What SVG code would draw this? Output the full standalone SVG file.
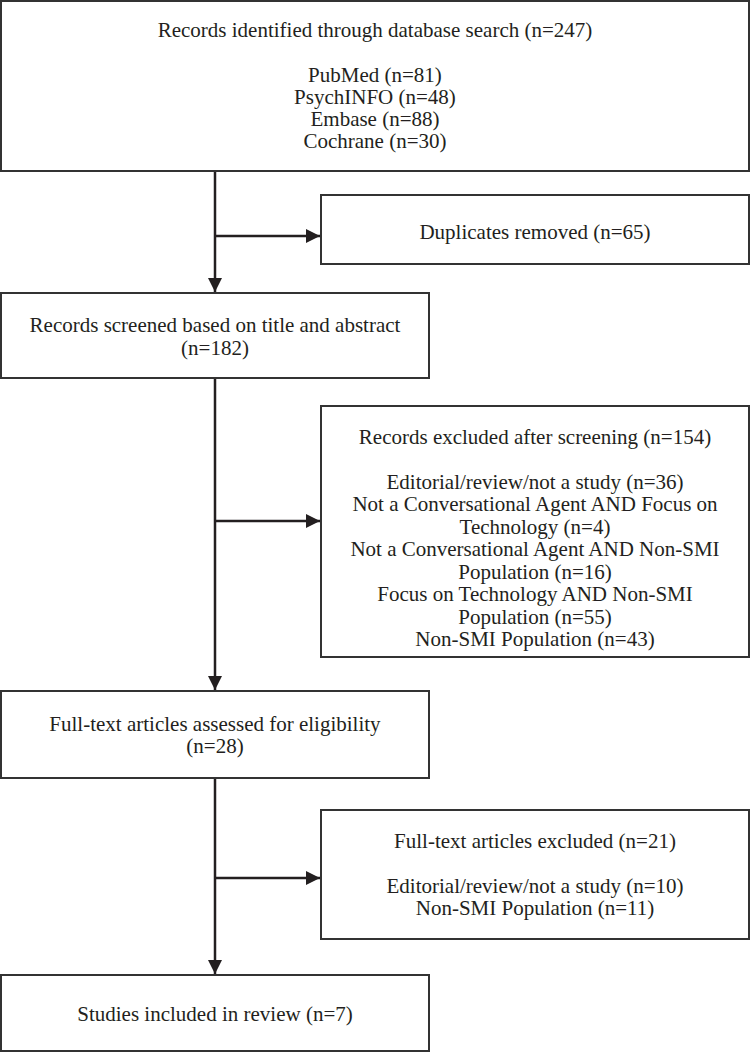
<svg xmlns="http://www.w3.org/2000/svg" width="751" height="1052" viewBox="0 0 751 1052">
<style>
.box{fill:#fff;stroke:#333;stroke-width:2}
.t{font-family:"Liberation Serif","Times New Roman",serif;font-size:21px;fill:#231f20;text-anchor:middle}
.c{stroke:#231f20;stroke-width:2.5;fill:none}
</style>
<defs>
<marker id="ah" markerUnits="userSpaceOnUse" markerWidth="16" markerHeight="16" viewBox="0 0 16 16" refX="14" refY="7" orient="auto">
<path d="M0,0 L14,7 L0,14 Z" fill="#231f20"/>
</marker>
</defs>
<rect width="751" height="1052" fill="#fff"/>
<g id="connectors">
<line class="c" x1="215" y1="171" x2="215" y2="292" marker-end="url(#ah)"/>
<line class="c" x1="215" y1="236" x2="320" y2="236" marker-end="url(#ah)"/>
<line class="c" x1="215" y1="378" x2="215" y2="690" marker-end="url(#ah)"/>
<line class="c" x1="215" y1="521" x2="320" y2="521" marker-end="url(#ah)"/>
<line class="c" x1="215" y1="778" x2="215" y2="974" marker-end="url(#ah)"/>
<line class="c" x1="215" y1="878" x2="320" y2="878" marker-end="url(#ah)"/>
</g>
<g id="identified">
<rect class="box" x="1" y="1" width="748" height="170"/>
<text class="t" x="375" y="37">Records identified through database search (n=247)</text>
<text class="t" x="375" y="82">PubMed (n=81)</text>
<text class="t" x="375" y="104">PsychINFO (n=48)</text>
<text class="t" x="375" y="126">Embase (n=88)</text>
<text class="t" x="375" y="148">Cochrane (n=30)</text>
</g>
<g id="duplicates">
<rect class="box" x="321" y="195" width="428" height="69"/>
<text class="t" x="535" y="239">Duplicates removed (n=65)</text>
</g>
<g id="screened">
<rect class="box" x="1" y="293" width="428" height="85"/>
<text class="t" x="215" y="332">Records screened based on title and abstract</text>
<text class="t" x="215" y="355">(n=182)</text>
</g>
<g id="excluded-screening">
<rect class="box" x="321" y="406" width="428" height="251"/>
<text class="t" x="535" y="444">Records excluded after screening (n=154)</text>
<text class="t" x="535" y="489">Editorial/review/not a study (n=36)</text>
<text class="t" x="535" y="511">Not a Conversational Agent AND Focus on</text>
<text class="t" x="535" y="534">Technology (n=4)</text>
<text class="t" x="535" y="556">Not a Conversational Agent AND Non-SMI</text>
<text class="t" x="535" y="579">Population (n=16)</text>
<text class="t" x="535" y="601">Focus on Technology AND Non-SMI</text>
<text class="t" x="535" y="624">Population (n=55)</text>
<text class="t" x="535" y="646">Non-SMI Population (n=43)</text>
</g>
<g id="fulltext">
<rect class="box" x="1" y="691" width="428" height="87"/>
<text class="t" x="215" y="731">Full-text articles assessed for eligibility</text>
<text class="t" x="215" y="753">(n=28)</text>
</g>
<g id="fulltext-excluded">
<rect class="box" x="321" y="810" width="428" height="129"/>
<text class="t" x="535" y="848">Full-text articles excluded (n=21)</text>
<text class="t" x="535" y="893">Editorial/review/not a study (n=10)</text>
<text class="t" x="535" y="915">Non-SMI Population (n=11)</text>
</g>
<g id="included">
<rect class="box" x="1" y="975" width="428" height="76"/>
<text class="t" x="215" y="1021">Studies included in review (n=7)</text>
</g>
</svg>
